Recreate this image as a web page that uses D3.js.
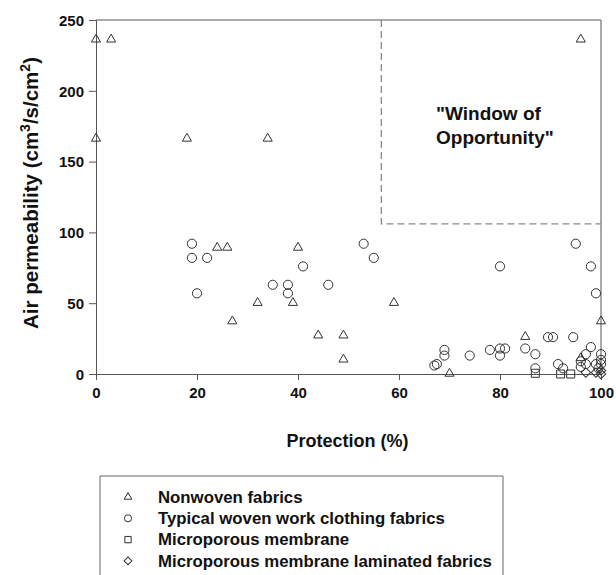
<!DOCTYPE html>
<html lang="en">
<head>
<meta charset="UTF-8">
<title>Air permeability vs protection</title>
<style>
html, body { margin: 0; padding: 0; background: #fff; }
svg { display: block; font-family: "Liberation Sans", Arial, sans-serif; }
.tick text { font-size: 15px; font-weight: bold; fill: #111; }
.axis path, .axis line { stroke: #555; }
.mark { fill: none; stroke: #333; stroke-width: 1; }
</style>
</head>
<body>
<div id="graph"></div>
<script src="https://d3js.org/d3.v7.min.js"></script>
<script>
// values
const nonwoven = [
  [0, 237], [3, 237], [96, 237], [0, 167], [18, 167], [34, 167],
  [24, 90], [26, 90], [40, 90], [32, 51], [39, 51], [59, 51],
  [27, 38], [100, 38], [44, 28], [49, 28], [85, 27], [49, 11],
  [70, 1], [96, 12]
];
const woven = [
  [19, 92], [19, 82], [22, 82], [20, 57], [41, 76], [35, 63], [38, 63],
  [38, 57], [46, 63], [53, 92], [55, 82], [80, 76], [95, 92], [98, 76],
  [99, 57], [69, 17], [69, 13], [67, 6], [67.5, 7], [74, 13], [78, 17],
  [80, 18], [81, 18], [80, 13], [85, 18], [87, 14], [87, 4], [89.5, 26],
  [90.5, 26], [94.5, 26], [91.5, 7], [92.5, 4], [98, 19], [97, 14],
  [100, 14], [96, 9], [96, 5], [97, 7], [100, 10], [100, 7], [99, 7],
  [99.5, 4]
];
const membrane = [[87, 0.5], [92, 0], [94, 0]];
const laminated = [[97, 1], [100, 2.5], [100, 0], [99, 1]];

const xTicks = [0, 20, 40, 60, 80, 100];
const yTicks = [0, 50, 100, 150, 200, 250];
const windowCorner = [56.5, 106];
const legendLabels = [
  "Nonwoven fabrics",
  "Typical woven work clothing fabrics",
  "Microporous membrane",
  "Microporous membrane laminated fabrics"
];

const width = 616, height = 575;
const margin = {top: 20, left: 96, right: 15, bottom: 201};
const chartWidth = width - margin.left - margin.right;
const chartHeight = height - margin.top - margin.bottom;

const svg = d3.select("#graph").append("svg")
  .attr("width", width).attr("height", height);

const xScale = d3.scaleLinear().domain([0, 100]).range([0, chartWidth]);
const yScale = d3.scaleLinear().domain([0, 250]).range([chartHeight, 0]);

const chart = svg.append("g")
  .attr("transform", `translate(${margin.left}, ${margin.top})`);

// frame top + right
chart.append("path")
  .attr("d", `M0,0H${chartWidth}V${chartHeight}`)
  .attr("fill", "none").attr("stroke", "#555");

// axes
chart.append("g").attr("class", "axis x")
  .attr("transform", `translate(0, ${chartHeight})`)
  .call(d3.axisBottom(xScale).tickValues(xTicks).tickSize(6).tickPadding(4));

chart.append("g").attr("class", "axis y")
  .call(d3.axisLeft(yScale).tickValues(yTicks).tickSize(7).tickPadding(5));

chart.selectAll(".axis .domain").attr("stroke", "#555");
chart.selectAll(".tick text").attr("dy", function () {
  return this.parentNode.parentNode.classList.contains("x") ? "0.95em" : "0.35em";
});

// window of opportunity
chart.append("path")
  .attr("d", `M${xScale(windowCorner[0])},0V${yScale(windowCorner[1])}H${chartWidth}`)
  .attr("fill", "none").attr("stroke", "#8a8a8a")
  .attr("stroke-width", 1.3).attr("stroke-dasharray", "7 4");

const note = chart.append("text")
  .attr("x", 340).attr("y", 100)
  .attr("font-size", 19).attr("font-weight", "bold").attr("fill", "#111");
note.append("tspan").attr("x", 340).attr("dy", 0).text("\"Window of");
note.append("tspan").attr("x", 340).attr("dy", 23.5).text("Opportunity\"");

// symbols
const sym = {
  triangle: d3.symbol().type(d3.symbolTriangle).size(36),
  circle: d3.symbol().type(d3.symbolCircle).size(66),
  square: d3.symbol().type(d3.symbolSquare).size(64),
  diamond: d3.symbol().type(d3.symbolSquare).size(44)
};

function drawSeries(data, kind) {
  chart.append("g").selectAll("path")
    .data(data)
    .join("path")
    .attr("class", "mark")
    .attr("d", sym[kind])
    .attr("transform", d => {
      const dy = kind === "triangle" ? 1 : 0;
      const rot = kind === "diamond" ? " rotate(45)" : "";
      return `translate(${xScale(d[0])}, ${yScale(d[1]) + dy})${rot}`;
    });
}

drawSeries(woven, "circle");
drawSeries(nonwoven, "triangle");
drawSeries(membrane, "square");
drawSeries(laminated, "diamond");

// axis titles
svg.append("text")
  .attr("x", margin.left + chartWidth / 2 - 1).attr("y", 447)
  .attr("text-anchor", "middle")
  .attr("font-size", 18).attr("font-weight", "bold").attr("fill", "#111")
  .text("Protection (%)");

const ylab = svg.append("text")
  .attr("transform", `translate(38, 193) rotate(-90)`)
  .attr("text-anchor", "middle")
  .attr("font-size", 20.5).attr("font-weight", "bold").attr("fill", "#111");
ylab.append("tspan").text("Air permeability (cm");
ylab.append("tspan").attr("font-size", 14).attr("dy", -8).text("3");
ylab.append("tspan").attr("dy", 8).text("/s/cm");
ylab.append("tspan").attr("font-size", 14).attr("dy", -8).text("2");
ylab.append("tspan").attr("dy", 8).text(")");

// legend
const legend = svg.append("g").attr("transform", "translate(100, 476)");
legend.append("path")
  .attr("d", "M0,100V0H403V100")
  .attr("fill", "none").attr("stroke", "#666");

const legendKinds = ["triangle", "circle", "square", "diamond"];
const legendSym = {
  triangle: d3.symbol().type(d3.symbolTriangle).size(26),
  circle: d3.symbol().type(d3.symbolCircle).size(40),
  square: d3.symbol().type(d3.symbolSquare).size(40),
  diamond: d3.symbol().type(d3.symbolSquare).size(30)
};
const rows = legend.selectAll("g.row")
  .data(legendLabels)
  .join("g").attr("class", "row")
  .attr("transform", (d, i) => `translate(0, ${21 + i * 21.3})`);

rows.append("path")
  .attr("class", "mark")
  .attr("d", (d, i) => legendSym[legendKinds[i]]())
  .attr("transform", (d, i) => `translate(28, 0)${legendKinds[i] === "diamond" ? " rotate(45)" : ""}`);

rows.append("text")
  .attr("x", 58).attr("dy", "0.35em")
  .attr("font-size", 16.8).attr("font-weight", "bold").attr("fill", "#111")
  .text(d => d);
</script>
</body>
</html>
